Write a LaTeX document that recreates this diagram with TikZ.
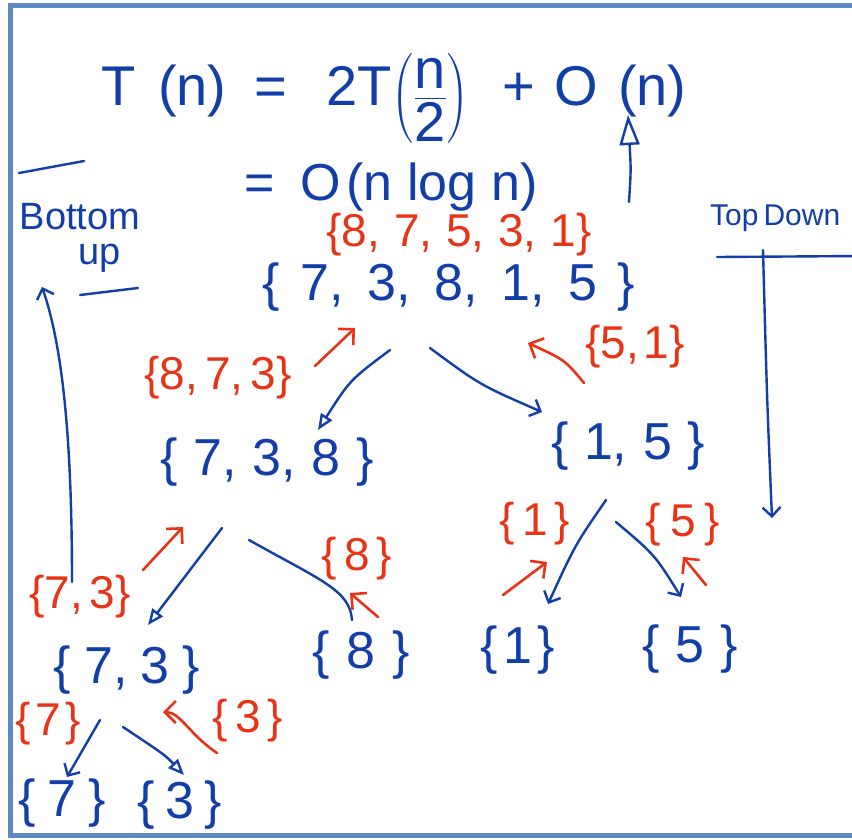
\documentclass[tikz,border=0pt]{standalone}
\usepackage{fontspec}
\usepackage{amsmath}
\setmainfont{Liberation Sans}
\usetikzlibrary{arrows.meta}
\definecolor{ink}{RGB}{18,62,168}
\definecolor{redink}{RGB}{232,52,22}
\definecolor{framec}{RGB}{92,136,196}
\newcommand\gp[1]{\hspace{#1em}}
\begin{document}
\begin{tikzpicture}[x=1pt,y=-1pt,
  bset/.style={text=ink, font=\fontsize{52}{60}\selectfont, inner sep=0pt},
  rset/.style={text=redink, font=\fontsize{46}{54}\selectfont, inner sep=0pt},
  lbl/.style={text=ink, font=\fontsize{38}{44}\selectfont, inner sep=0pt},
  bline/.style={draw=ink, line width=2.4pt, line cap=round, line join=round},
  rline/.style={draw=redink, line width=2.6pt, line cap=round, line join=round},
  barb/.style={-{Straight Barb[length=9pt,width=18pt]}},
  rbarb/.style={-{Straight Barb[length=11pt,width=22pt]}},
  tri/.style={-{Triangle[open,length=16pt,width=13pt]}},
  bigtri/.style={-{Triangle[open,length=30pt,width=20pt]}}]
\useasboundingbox (0,0) rectangle (852,839);
\fill[white] (0,0) rectangle (852,839);
\draw[framec, line width=5pt] (860,5) -- (10,5) -- (10,835) -- (860,835);

% formulas
\node[bset, font=\fontsize{56}{64}\selectfont, anchor=base] (rec) at (394,105)
  {T\gp{0.4}(n)\gp{0.5}=\gp{0.7}2T$\left(\dfrac{\text{n}}{\text{2}}\right)$\gp{0.6}+\gp{0.35}O\gp{0.35}(n)};
\node[bset] (res) at (391,187) {=\gp{0.5}O\gp{0.1}(n log n)};

% side labels
\node[lbl] (bot) at (80,217) {Bottom};
\node[lbl] (up) at (100,258) {up};
\node[lbl, font=\fontsize{30}{36}\selectfont, anchor=west] (td) at (710,218) {Top\,Down};
\coordinate (ov1) at (19,173); \coordinate (ov2) at (84,161);
\coordinate (ul1) at (80,295); \coordinate (ul2) at (138,288);
\coordinate (tl1) at (717,257); \coordinate (tl2) at (860,256);
\draw[bline] (ov1) -- (ov2);
\draw[bline] (ul1) -- (ul2);
\draw[bline] (tl1) -- (tl2);

% blue sets
\node[bset] (root) at (449,287) {\{\gp{0.4}7,\gp{0.45}3,\gp{0.45}8,\gp{0.45}1,\gp{0.45}5\gp{0.4}\}};
\node[bset] (l) at (267,462) {\{\gp{0.3}7,\gp{0.3}3,\gp{0.3}8\gp{0.3}\}};
\node[bset] (r) at (628,446) {\{\gp{0.3}1,\gp{0.3}5\gp{0.3}\}};
\node[bset] (ll) at (127,670) {\{\gp{0.25}7,\gp{0.25}3\gp{0.25}\}};
\node[bset] (lr) at (361,655) {\{\gp{0.33}8\gp{0.33}\}};
\node[bset] (rl) at (518,650) {\{\gp{0.1}1\gp{0.1}\}};
\node[bset] (rr) at (690,649) {\{\gp{0.3}5\gp{0.3}\}};
\node[bset] (lll) at (62,803) {\{\gp{0.23}7\gp{0.23}\}};
\node[bset] (llr) at (180,805) {\{\gp{0.2}3\gp{0.2}\}};

% red sets
\node[rset] (rroot) at (459,235) {\{8,\gp{0.3}7,\gp{0.3}5,\gp{0.3}3,\gp{0.3}1\}};
\node[rset] (rl) at (218,378) {\{8,\gp{0.15}7,\gp{0.15}3\}};
\node[rset] (rr) at (635,347) {\{5,\gp{0.1}1\}};
\node[rset] (rll) at (80,597) {\{7,\gp{0.15}3\}};
\node[rset] (rlr) at (357,559) {\{\gp{0.15}8\gp{0.15}\}};
\node[rset] (rrl) at (535,524) {\{\gp{0.15}1\gp{0.15}\}};
\node[rset] (rrr) at (683,525) {\{\gp{0.2}5\gp{0.2}\}};
\node[rset] (rlll) at (48,724) {\{\gp{0.1}7\gp{0.1}\}};
\node[rset] (rllr) at (248,721) {\{\gp{0.15}3\gp{0.15}\}};

% arrow end points
\coordinate (a1s) at (629,202); \coordinate (a1e) at (628,115);
\coordinate (bus) at (72,582);  \coordinate (bue) at (42,287);
\coordinate (tds) at (763,250); \coordinate (tde) at (772,518);
\coordinate (rls) at (390,350); \coordinate (rle) at (318,430);
\coordinate (rrs) at (430,348); \coordinate (rre) at (542,412);
\coordinate (lls) at (222,528); \coordinate (lle) at (148,625);
\coordinate (lrs) at (249,540); \coordinate (lre) at (352,620);
\coordinate (r1s) at (606,500); \coordinate (r1e) at (548,604);
\coordinate (r2s) at (616,522); \coordinate (r2e) at (681,597);
\coordinate (l1s) at (100,720); \coordinate (l1e) at (67,777);
\coordinate (l2s) at (123,727); \coordinate (l2e) at (184,775);
% red arrows
\coordinate (q1s) at (315,366); \coordinate (q1e) at (355,328);
\coordinate (q2s) at (584,383); \coordinate (q2e) at (528,343);
\coordinate (q3s) at (143,570); \coordinate (q3e) at (183,527);
\coordinate (q4s) at (378,617); \coordinate (q4e) at (350,593);
\coordinate (q5s) at (503,595); \coordinate (q5e) at (547,562);
\coordinate (q6s) at (706,585); \coordinate (q6e) at (683,557);
\coordinate (q7s) at (217,753); \coordinate (q7e) at (163,712);

% blue connectors
\draw[bline, bigtri] (a1s) .. controls (631,170) .. (a1e);
\draw[bline, barb] (bus) .. controls (72,450) and (64,350) .. (bue);
\draw[bline, barb] (tds) .. controls (767,400) .. (tde);
\draw[bline, tri] (rls) .. controls (350,380) .. (rle);
\draw[bline, barb] (rrs) .. controls (480,385) .. (rre);
\draw[bline, tri] (lls) .. controls (190,570) .. (lle);
\draw[bline] (lrs) .. controls (320,580) and (350,590) .. (lre);
\draw[bline, barb] (r1s) .. controls (575,545) .. (r1e);
\draw[bline, barb] (r2s) .. controls (655,555) .. (r2e);
\draw[bline, barb] (l1s) -- (l1e);
\draw[bline, tri] (l2s) .. controls (165,755) .. (l2e);

% red connectors
\draw[rline, rbarb] (q1s) -- (q1e);
\draw[rline, rbarb] (q2s) .. controls (565,360) .. (q2e);
\draw[rline, rbarb] (q3s) -- (q3e);
\draw[rline, rbarb] (q4s) -- (q4e);
\draw[rline, rbarb] (q5s) -- (q5e);
\draw[rline, rbarb] (q6s) -- (q6e);
\draw[rline, rbarb] (q7s) .. controls (190,735) and (180,712) .. (q7e);
\end{tikzpicture}
\end{document}
